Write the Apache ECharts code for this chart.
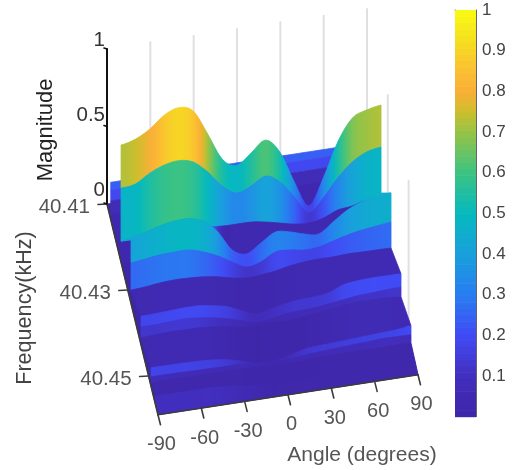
<!DOCTYPE html>
<html><head><meta charset="utf-8">
<style>html,body{margin:0;padding:0;background:#fff}#c{width:516px;height:470px;filter:blur(0.45px)}</style>
<script src="https://cdn.jsdelivr.net/npm/echarts@6/dist/echarts.min.js"></script>
</head><body><div id="c"></div>
<script>
// ---------- data ----------
const angles = [-90,-80,-70,-60,-50,-40,-30,-20,-10,0,10,20,30,40,50,60,70,80,90];
const angleTicks = [-90,-60,-30,0,30,60,90];
const freqTicks = [40.41,40.43,40.45];
const magTicks = [0,0.5,1];
const colorbarTicks = [0,0.1,0.2,0.3,0.4,0.5,0.6,0.7,0.8,0.9,1];

const zeros      = [0,0,0,0,0,0,0,0,0,0,0,0,0,0,0,0,0,0,0];
const rowBackA   = [.24,.24,.24,.24,.24,.24,.24,.24,.24,.24,.24,.24,.24,.24,.24,.24,.24,.24,.24];
const rowBackB   = [.19,.19,.19,.19,.19,.19,.19,.19,.19,.19,.19,.19,.19,.19,.19,.19,.19,.19,.19];
const rowBackC   = [.12,.12,.12,.12,.12,.12,.12,.12,.12,.12,.12,.12,.12,.12,.12,.12,.12,.12,.12];
const rowBackD   = [.03,.03,.03,.03,.03,.03,.03,.03,.03,.03,.03,.03,.03,.03,.03,.03,.03,.03,.03];
const rowPeak    = [.755,.779,.83,.905,.939,.903,.74,.564,.508,.574,.644,.552,.344,.175,.341,.559,.699,.737,.755];
const rowPeak2   = [.477,.489,.546,.583,.597,.574,.495,.39,.33,.361,.412,.359,.247,.13,.212,.327,.415,.466,.484];
const rowPeak3   = [.135,.154,.178,.202,.214,.206,.146,.132,.13,.129,.115,.094,.073,.065,.083,.121,.132,.163,.187];
const rowMid     = [.409,.44,.465,.482,.487,.46,.375,.244,.204,.261,.317,.303,.275,.261,.325,.388,.425,.443,.454];
const rowMid2    = [.261,.272,.284,.288,.287,.26,.22,.166,.12,.138,.188,.187,.172,.177,.202,.226,.244,.255,.267];
const rowMid3    = [.086,.092,.103,.108,.106,.099,.085,.063,.049,.054,.066,.084,.095,.1,.099,.104,.102,.101,.099];
const rowLow     = [.183,.185,.19,.194,.193,.179,.158,.117,.084,.102,.12,.132,.136,.148,.185,.197,.201,.2,.199];
const rowLow2    = [.115,.114,.119,.123,.115,.101,.081,.053,.026,.037,.055,.061,.065,.077,.088,.1,.105,.11,.115];
const rowLow3    = [.044,.049,.054,.052,.051,.043,.029,.014,.006,.012,.01,.015,.026,.038,.05,.061,.059,.058,.05];
const rowFront   = [.117,.116,.115,.113,.108,.097,.077,.049,.035,.046,.071,.089,.094,.099,.104,.109,.114,.119,.13];
const rowFront2  = [.059,.058,.057,.055,.054,.052,.051,.043,.032,.034,.039,.05,.055,.06,.065,.07,.075,.074,.072];
const rowFront3  = [.02,.02,.02,.02,.02,.02,.02,.015,.01,.01,.01,.015,.02,.02,.02,.02,.02,.02,.02];
const rowEdge    = [.05,.05,.05,.05,.05,.04,.03,.02,.01,.01,.01,.01,.01,.01,.01,.01,.01,.01,.01];
// colour seen on the strip below rowPeak3: the dark wedge, meeting the next strip's colour at its ends
const wedgeColor = [.409,.44,.465,.482,.487,.46,.375,.05,.04,.04,.04,.04,.04,.04,.04,.04,.05,.44,.454];

const freqBack = 40.41, freqFront = 40.459;
// frequency of each drawn row, back to front
const surfaceFreqs = [40.4136,40.4136,40.4136,40.4136,40.4235,40.4235,40.4235,40.4235,40.4331,40.4331,40.4331,40.4427,40.4427,40.4427,40.4523,40.4523,40.4523,40.4565,40.459];
const surfaceRows  = [rowBackA,rowBackB,rowBackC,rowBackD,zeros,rowPeak,rowPeak2,rowPeak3,rowMid,rowMid2,rowMid3,rowLow,rowLow2,rowLow3,rowFront,rowFront2,rowFront3,rowEdge,zeros];
// colour data of each row relative to its height, as seen in the picture
const surfaceColorGain = [1,1,.6,1,1,.96,1,1,1,1,.5,1,1.1,1,1.5,1.2,1,2,1];
const surfaceColorRows = {7:wedgeColor};
// strips that lie wholly under the next strip are not drawn
const hiddenStrips = [4];

const colorStops = [
 [0,62,38,168],[.1,66,46,190],[.2,65,75,245],[.3,40,125,240],[.4,25,160,220],[.5,5,185,190],
 [.6,60,195,130],[.7,150,195,70],[.75,205,190,45],[.8,250,175,55],[.85,250,190,50],[.93,245,225,30],[1,249,251,20]];

// ---------- oblique view of the 3-D box, in plane units ----------
const view = {ox:107, oy:204, ax:260, ay:-40, fx:20.8, fy:86, zy:155};
function project(a,f,m){
  const s=(a+90)/180, t=(f-40.41)/0.02;
  return [view.ox+s*view.ax+t*view.fx, view.oy+s*view.ay+t*view.fy-m*view.zy];
}
function colorOf(v){
  v=Math.max(0,Math.min(1,v));
  for(let i=1;i<colorStops.length;i++){
    if(v<=colorStops[i][0]){
      const p=colorStops[i-1],q=colorStops[i],k=(v-p[0])/(q[0]-p[0]);
      return 'rgb('+[1,2,3].map(j=>Math.round(p[j]+(q[j]-p[j])*k)).join(',')+')';
    }
  }
  return 'rgb(249,251,20)';
}
// smooth curve through the read samples (drawing only)
const SUB=4;
function smooth(row){
  const out=[];
  for(let i=0;i<row.length-1;i++){
    const p0=row[Math.max(i-1,0)],p1=row[i],p2=row[i+1],p3=row[Math.min(i+2,row.length-1)];
    for(let k=0;k<SUB;k++){
      const t=k/SUB,t2=t*t,t3=t2*t;
      out.push({a:angles[i]+(angles[i+1]-angles[i])*t,
        m:0.5*(2*p1+(p2-p0)*t+(2*p0-5*p1+4*p2-p3)*t2+(3*p1-p0-3*p2+p3)*t3)});
    }
  }
  out.push({a:angles[angles.length-1],m:row[row.length-1]});
  return out;
}
const facets=[{r0:zeros,f0:freqBack,r1:zeros,f1:freqFront,g:1,c:zeros}];
for(let i=0;i<surfaceRows.length-1;i++){
  if(hiddenStrips.indexOf(i)>=0) continue;
  facets.push({r0:surfaceRows[i],f0:surfaceFreqs[i],r1:surfaceRows[i+1],f1:surfaceFreqs[i+1],
    g:surfaceColorGain[i],c:surfaceColorRows[i]||surfaceRows[i]});
}
function renderFacet(params,api){
  const F=facets[params.dataIndex];
  const top=smooth(F.r0),bot=smooth(F.r1),col=smooth(F.c);
  const pts=[];
  top.forEach(p=>pts.push(api.coord(project(p.a,F.f0,p.m))));
  bot.slice().reverse().forEach(p=>pts.push(api.coord(project(p.a,F.f1,p.m))));
  const n=top.length-1;
  const stops=col.map((p,i)=>({offset:i/n,color:colorOf(p.m*F.g)}));
  const x1=api.coord(project(-90,F.f0,0))[0],x2=api.coord(project(90,F.f0,0))[0];
  const grad=new echarts.graphic.LinearGradient(x1,0,x2,0,stops,true);
  return {type:'polygon',shape:{points:pts},
    style:{fill:grad,stroke:grad,lineWidth:0.8,lineJoin:'round'}};
}
function seg(api,p,q,stroke,w){
  const A=api.coord(p),B=api.coord(q);
  return {type:'line',shape:{x1:A[0],y1:A[1],x2:B[0],y2:B[1]},style:{stroke:stroke,lineWidth:w,lineCap:'round'}};
}
function txt(api,p,s,opt){
  const A=api.coord(p);
  return {type:'text',x:A[0],y:A[1],rotation:opt.rot||0,
    style:{text:s,font:opt.font,fill:opt.fill,align:opt.align||'center',verticalAlign:'middle'}};
}
const FONT='"Liberation Sans", Arial, sans-serif';
function renderWalls(params,api){
  const ch=[];
  angleTicks.slice(1).forEach(a=>ch.push(seg(api,project(a,freqBack,0),project(a,freqBack,1),'#e0e0e0',2)));
  freqTicks.slice(1).forEach(f=>ch.push(seg(api,project(90,f,0),project(90,f,1),'#e0e0e0',2)));
  return {type:'group',children:ch};
}
function renderAxes(params,api){
  const ch=[];
  const AX='#3c3c3c';
  ch.push(seg(api,project(-90,freqBack,0),project(-90,freqBack,1),'#111',2));
  ch.push(seg(api,project(-90,freqBack,0),project(-90,freqFront,0),AX,1.6));
  ch.push(seg(api,project(-90,freqFront,0),project(90,freqFront,0),AX,1.6));
  angleTicks.forEach(a=>{
    const p=project(a,freqFront,0);
    ch.push(seg(api,p,[p[0]+2.5,p[1]+10],AX,1.6));
    ch.push(txt(api,[p[0]+3.5,p[1]+30],String(a),{font:'20px '+FONT,fill:'#555'}));
  });
  freqTicks.forEach(f=>{
    const p=project(-90,f,0);
    ch.push(seg(api,p,[p[0]-9,p[1]+0.5],AX,1.6));
    ch.push(txt(api,[p[0]-17,p[1]+3.5],f.toFixed(2),{font:'20.5px '+FONT,fill:'#555',align:'right'}));
  });
  magTicks.forEach(m=>{
    const p=project(-90,freqBack,m);
    ch.push(seg(api,p,[p[0]-3,p[1]-1],'#111',1.6));
    ch.push(txt(api,[p[0]-2,p[1]-9-(1-m)*5],String(m),{font:'20.5px '+FONT,fill:'#333',align:'right'}));
  });
  ch.push(txt(api,[46,130],'Magnitude',{font:'22px '+FONT,fill:'#222',rot:Math.PI/2}));
  ch.push(txt(api,[25,308],'Frequency(kHz)',{font:'21.6px '+FONT,fill:'#444',rot:Math.PI/2}));
  ch.push(txt(api,[362,455],'Angle (degrees)',{font:'21px '+FONT,fill:'#555'}));
  return {type:'group',children:ch};
}
// colour bar levels (64 flat steps)
const barLevels=[];for(let i=0;i<64;i++)barLevels.push(i);
function renderBar(params,api){
  const i=params.dataIndex;
  const a=api.coord([0,i/64]),b=api.coord([1,(i+1)/64]);
  return {type:'rect',shape:{x:a[0],y:b[1],width:b[0]-a[0],height:a[1]-b[1]+0.6},
    style:{fill:colorOf((i+0.5)/64)}};
}
const chart=echarts.init(document.getElementById('c'),null,{renderer:'canvas'});
chart.setOption({
  animation:false,backgroundColor:'#fff',
  grid:[
    {left:0,top:0,width:516,height:470},
    {left:455,top:10,width:21,height:406.6,show:false,z:5}
  ],
  xAxis:[
    {gridIndex:0,type:'value',min:0,max:516,show:false},
    {gridIndex:1,type:'value',min:0,max:1,position:'top',axisLine:{show:true,onZero:false,lineStyle:{color:'#666',width:1}},axisTick:{show:false},axisLabel:{show:false},splitLine:{show:false}}
  ],
  yAxis:[
    {gridIndex:0,type:'value',min:0,max:470,inverse:true,show:false},
    {gridIndex:1,type:'value',min:0,max:1,interval:0.1,position:'right',
     axisLine:{show:true,onZero:false,lineStyle:{color:'#666',width:1}},
     axisTick:{show:true,inside:true,length:3,lineStyle:{color:'#444'}},
     splitLine:{show:false},
     axisLabel:{margin:6,color:'#444',fontSize:17,fontFamily:'Liberation Sans',
       customValues:colorbarTicks.slice(1),
       formatter:v=>v===1?'1':v.toFixed(1)}},
    {gridIndex:1,type:'value',min:0,max:1,position:'left',
     axisLine:{show:true,onZero:false,lineStyle:{color:'#666',width:1}},axisTick:{show:false},axisLabel:{show:false},splitLine:{show:false}}
  ],
  series:[
    {type:'custom',xAxisIndex:0,yAxisIndex:0,data:[[0,0]],renderItem:renderWalls,silent:true,clip:false,z:1},
    {type:'custom',xAxisIndex:0,yAxisIndex:0,data:facets.map((_,i)=>[i,0]),renderItem:renderFacet,silent:true,clip:false,z:2},
    {type:'custom',xAxisIndex:0,yAxisIndex:0,data:[[0,0]],renderItem:renderAxes,silent:true,clip:false,z:3},
    {type:'custom',xAxisIndex:1,yAxisIndex:1,data:barLevels.map(i=>[0,i/64]),renderItem:renderBar,silent:true,clip:false,z:1}
  ]
});
</script></body></html>
